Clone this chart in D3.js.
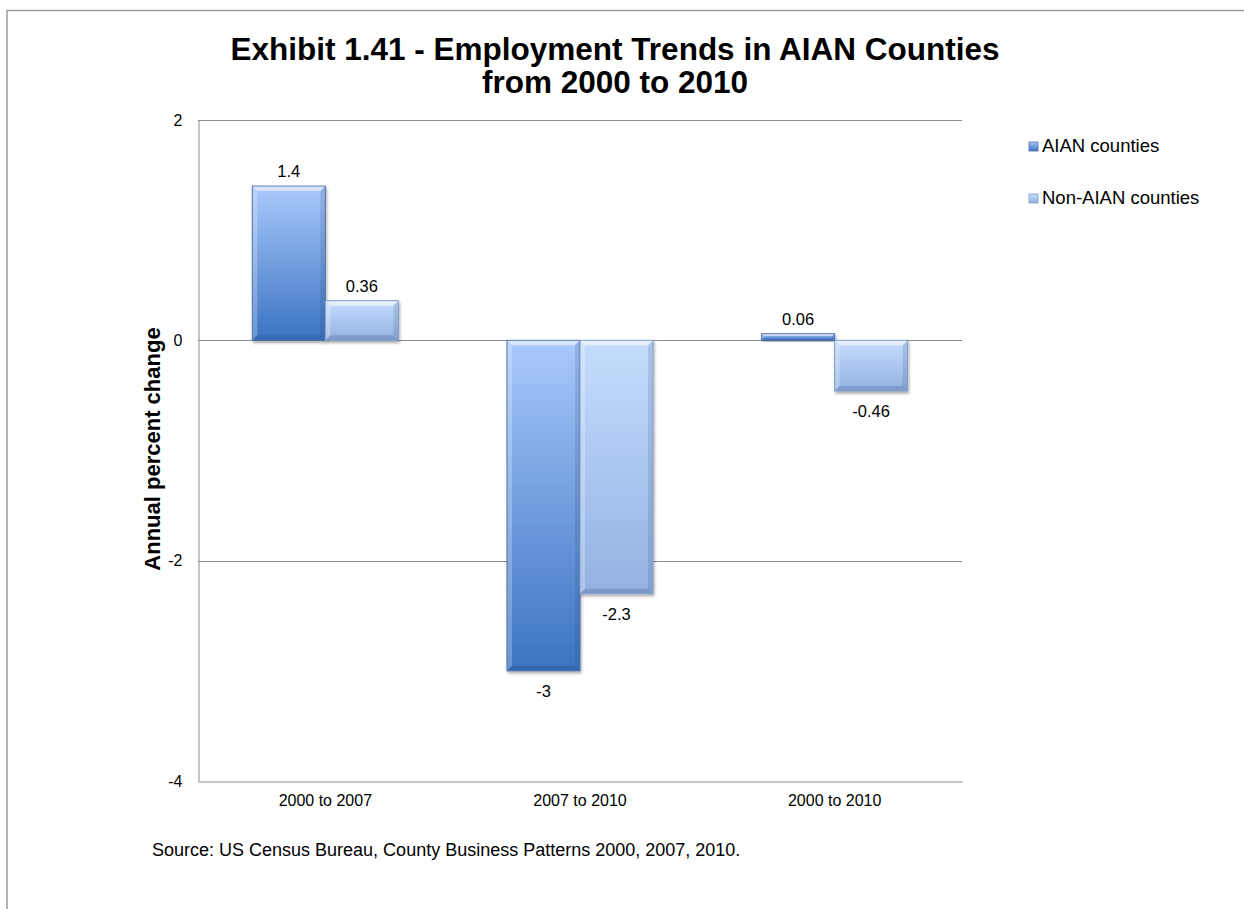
<!DOCTYPE html>
<html>
<head>
<meta charset="utf-8">
<script src="https://cdn.jsdelivr.net/npm/d3@7"></script>
<style>
  html, body { margin: 0; padding: 0; background: #fff; }
  svg { display: block; font-family: "Liberation Sans", Arial, sans-serif; }
</style>
</head>
<body>
<script>
// Chart data
const categories = ["2000 to 2007", "2007 to 2010", "2000 to 2010"];
const seriesNames = ["AIAN counties", "Non-AIAN counties"];
const aianValues = [1.4, -3, 0.06];
const nonAianValues = [0.36, -2.3, -0.46];
const yTicks = [2, 0, -2, -4];
const sourceNote = "Source: US Census Bureau, County Business Patterns 2000, 2007, 2010.";
const titleLines = ["Exhibit 1.41 - Employment Trends in AIAN Counties", "from 2000 to 2010"];

const W = 1244, H = 909;
const FONT = "Liberation Sans, Arial, sans-serif";
const svg = d3.select("body").append("svg").attr("width", W).attr("height", H);

const plot = { left: 198, right: 962, top: 120, bottom: 781 };

const x0 = d3.scaleBand().domain(categories).range([plot.left, plot.right]).paddingInner(0).paddingOuter(0);
const x1 = d3.scaleBand().domain(seriesNames).range([0, 146]);
const groupOffset = (x0.bandwidth() - 146) / 2;
const y = d3.scaleLinear().domain([-4, 2]).range([plot.bottom, plot.top]);

// gradients
const defs = svg.append("defs");
const gradSpecs = [
  { id: "g0", top: "#a9c9fb", bottom: "#3b73c2" },
  { id: "g1", top: "#c5ddfd", bottom: "#93b1e2" }
];
gradSpecs.forEach(g => {
  const lg = defs.append("linearGradient").attr("id", g.id).attr("x1", 0).attr("y1", 0).attr("x2", 0).attr("y2", 1);
  lg.append("stop").attr("offset", "0%").attr("stop-color", g.top);
  lg.append("stop").attr("offset", "100%").attr("stop-color", g.bottom);
});
const shadow = defs.append("filter").attr("id", "shadow").attr("x", "-10%").attr("y", "-10%").attr("width", "130%").attr("height", "130%");
shadow.append("feGaussianBlur").attr("in", "SourceAlpha").attr("stdDeviation", 1.5);
shadow.append("feOffset").attr("dx", 1).attr("dy", 2).attr("result", "ob");
shadow.append("feComponentTransfer").append("feFuncA").attr("type", "linear").attr("slope", 0.35);
const merge = shadow.append("feMerge");
merge.append("feMergeNode");
merge.append("feMergeNode").attr("in", "SourceGraphic");

// outer frame
svg.append("line").attr("x1", 7).attr("x2", W).attr("y1", 10.5).attr("y2", 10.5).attr("stroke", "#9a9a9a").attr("stroke-width", 1.5);
svg.append("line").attr("x1", 7).attr("x2", 7).attr("y1", 10).attr("y2", H).attr("stroke", "#9a9a9a").attr("stroke-width", 1.5);

// title
const title = svg.append("text").attr("text-anchor", "middle").attr("font-weight", "bold").attr("font-size", 31.5).attr("fill", "#000");
titleLines.forEach((t, i) => {
  title.append("tspan").attr("x", 615).attr("y", 60 + i * 33).text(t);
});

// gridlines
svg.append("g").selectAll("line").data(yTicks.filter(v => v !== -4)).join("line")
  .attr("x1", plot.left).attr("x2", plot.right)
  .attr("y1", d => Math.round(y(d)) + 0.5).attr("y2", d => Math.round(y(d)) + 0.5)
  .attr("stroke", "#8c8c8c").attr("stroke-width", 1);

// axes
const yAxis = svg.append("g").attr("transform", `translate(${plot.left + 0.5},0)`)
  .call(d3.axisLeft(y).tickValues(yTicks).tickSize(0).tickPadding(16).tickFormat(d => String(d)));
yAxis.select(".domain").attr("stroke", "#8c8c8c");
yAxis.selectAll("text").attr("font-size", 16).attr("fill", "#000").attr("font-family", FONT);

const xAxis = svg.append("g").attr("transform", `translate(0,${plot.bottom + 0.5})`)
  .call(d3.axisBottom(x0).tickSize(0).tickPadding(13));
xAxis.select(".domain").attr("stroke", "#8c8c8c");
xAxis.selectAll("text").attr("font-size", 16).attr("fill", "#000").attr("font-family", FONT);

// y axis title
svg.append("text").attr("transform", "translate(160,449) rotate(-90)")
  .attr("text-anchor", "middle").attr("font-weight", "bold").attr("font-size", 22).text("Annual percent change");

// bars
const rows = categories.map((c, i) => ({ cat: c, vals: [aianValues[i], nonAianValues[i]] }));
const barsG = svg.append("g");
rows.forEach(r => {
  r.vals.forEach((v, si) => {
    const bx = x0(r.cat) + groupOffset + x1(seriesNames[si]);
    const bw = x1.bandwidth();
    const yTop = y(Math.max(0, v)), yBot = y(Math.min(0, v));
    const h = Math.max(yBot - yTop, 1);
    const g = barsG.append("g").attr("filter", "url(#shadow)");
    g.append("rect").attr("x", bx).attr("y", yTop).attr("width", bw).attr("height", h)
      .attr("fill", `url(#g${si})`).attr("stroke", si === 0 ? "#4d72a8" : "#7f9cc8").attr("stroke-width", 1);
    // bevel highlights
    const bev = Math.min(5, h / 3);
    g.append("path").attr("d", `M${bx + 0.5},${yTop + 0.5}L${bx + bw - 0.5},${yTop + 0.5}L${bx + bw - bev},${yTop + bev}L${bx + bev},${yTop + bev}Z`)
      .attr("fill", "#ffffff").attr("opacity", 0.55);
    g.append("path").attr("d", `M${bx + 0.5},${yTop + 0.5}L${bx + bev},${yTop + bev}L${bx + bev},${yTop + h - bev}L${bx + 0.5},${yTop + h - 0.5}Z`)
      .attr("fill", "#ffffff").attr("opacity", 0.25);
    g.append("path").attr("d", `M${bx + bw - 0.5},${yTop + 0.5}L${bx + bw - bev},${yTop + bev}L${bx + bw - bev},${yTop + h - bev}L${bx + bw - 0.5},${yTop + h - 0.5}Z`)
      .attr("fill", "#1c3a6a").attr("opacity", 0.15);
    g.append("path").attr("d", `M${bx + 0.5},${yTop + h - 0.5}L${bx + bev},${yTop + h - bev}L${bx + bw - bev},${yTop + h - bev}L${bx + bw - 0.5},${yTop + h - 0.5}Z`)
      .attr("fill", "#1c3a6a").attr("opacity", 0.2);
    // value label
    barsG.append("text").attr("x", bx + bw / 2)
      .attr("y", v >= 0 ? yTop - 9 : yBot + 26)
      .attr("text-anchor", "middle").attr("font-size", 16.5).attr("fill", "#000")
      .text(String(v));
  });
});

// legend
const legend = svg.append("g");
seriesNames.forEach((n, i) => {
  const ly = 146 + i * 52;
  legend.append("rect").attr("x", 1029).attr("y", ly - 4).attr("width", 9).attr("height", 9)
    .attr("fill", `url(#g${i})`).attr("stroke", i === 0 ? "#4d72a8" : "#7f9cc8").attr("stroke-width", 0.8);
  legend.append("text").attr("x", 1042).attr("y", ly + 6).attr("font-size", 18.5).attr("fill", "#000").text(n);
});

// source note
svg.append("text").attr("x", 152).attr("y", 856).attr("font-size", 18).attr("fill", "#000").text(sourceNote);
</script>
</body>
</html>
